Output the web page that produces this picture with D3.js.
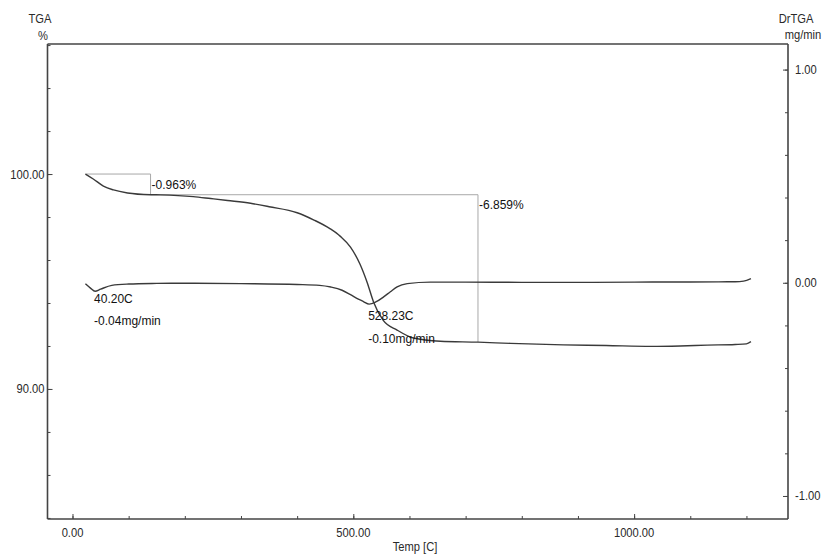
<!DOCTYPE html>
<html>
<head>
<meta charset="utf-8">
<script src="https://cdn.jsdelivr.net/npm/d3@7/dist/d3.min.js"></script>
<style>
  html, body { margin: 0; padding: 0; background: #fff; }
  svg { display: block; }
  .tick-label { font-family: "Liberation Sans", Arial, sans-serif; font-size: 13px; fill: #2a2a2a; }
  .note { font-family: "Liberation Sans", Arial, sans-serif; font-size: 12px; fill: #111; }
</style>
</head>
<body>
<svg id="chart" width="828" height="556"></svg>
<script>
// TGA mass curve (%), sampled against temperature (°C)
const tgaTemp = [23, 37, 55, 73, 98, 139, 157, 215, 246, 276, 317, 350, 400, 430, 459, 477, 495, 512, 525, 536, 553, 578, 607, 655, 722, 780, 874, 950, 1030, 1082, 1130, 1180, 1200, 1208];
const tgaMass = [100.0, 99.77, 99.44, 99.26, 99.12, 99.037, 99.03, 98.95, 98.86, 98.77, 98.64, 98.48, 98.2, 97.86, 97.45, 97.1, 96.6, 95.8, 94.93, 94.05, 93.2, 92.74, 92.37, 92.22, 92.178, 92.12, 92.05, 92.02, 91.98, 92.0, 92.04, 92.07, 92.1, 92.2];

// DrTGA derivative curve (mg/min)
const dtgTemp = [23, 32, 40.2, 50, 70, 100, 150, 200, 300, 400, 440, 460, 480, 495, 510, 518, 528.23, 540, 554, 566, 578, 596, 637, 700, 800, 900, 1000, 1100, 1180, 1195, 1208];
const dtgRate = [-0.005, -0.025, -0.04, -0.03, -0.012, -0.006, -0.003, -0.002, -0.004, -0.008, -0.012, -0.02, -0.035, -0.056, -0.078, -0.088, -0.10, -0.09, -0.066, -0.042, -0.019, -0.004, 0.003, 0.003, 0.002, 0.002, 0.003, 0.004, 0.005, 0.008, 0.02];

// Mass-loss steps: start temp, end temp, start level (%), loss (%)
const stepStart = [23, 139];
const stepEnd = [139, 722];
const stepLevel = [100.0, 99.037];
const stepLoss = [0.963, 6.859];

// Peak readouts on the derivative curve
const peakTemp = [40.20, 528.23];
const peakRate = [-0.04, -0.10];

// Axis ticks
const xMajor = [0, 500, 1000];
const xMinor = d3.range(0, 1201, 100);
const yLeftMajor = [100, 90];
const yLeftMinor = d3.range(84, 106.1, 2);
const yRightMajor = [1, 0, -1];
const yRightMinor = d3.range(-1, 1.01, 0.2);

const svg = d3.select("#chart");
const L = 47.5, R = 788, T = 44, B = 519;

const x = d3.scaleLinear().domain([-44.5, 1274]).range([L, R]);
const yL = d3.scaleLinear().domain([83.95, 106.05]).range([B, T]);
const yR = d3.scaleLinear().domain([-1.108, 1.12]).range([B, T]);

const axisColor = "#444";
const curveColor = "#3a3a3a";
const guideColor = "#a8a8a8";

// Condensed label helper (axis text is drawn narrow)
function narrowText(sel, px, py, anchor, txt) {
  return sel.append("text").attr("class", "tick-label")
    .attr("transform", `translate(${px},${py}) scale(0.86,1)`)
    .attr("text-anchor", anchor).text(txt);
}

// Step brackets for the two mass losses
stepStart.forEach((s, i) => {
  const lvl = stepLevel[i];
  const g = svg.append("g").attr("stroke", guideColor).attr("stroke-width", 1).attr("fill", "none");
  g.append("line").attr("x1", x(s)).attr("x2", x(stepEnd[i])).attr("y1", yL(lvl)).attr("y2", yL(lvl));
  g.append("line").attr("x1", x(stepEnd[i])).attr("x2", x(stepEnd[i])).attr("y1", yL(lvl)).attr("y2", yL(lvl - stepLoss[i]));
  svg.append("text").attr("class", "note")
    .attr("x", x(stepEnd[i]) + 1).attr("y", yL(lvl) + 14.5)
    .text("-" + stepLoss[i].toFixed(3) + "%");
});

// Curves
const tgaLine = d3.line().x(d => x(d[0])).y(d => yL(d[1])).curve(d3.curveMonotoneX);
const dtgLine = d3.line().x(d => x(d[0])).y(d => yR(d[1])).curve(d3.curveMonotoneX);

svg.append("path")
  .attr("d", tgaLine(tgaTemp.map((t, i) => [t, tgaMass[i]])))
  .attr("fill", "none").attr("stroke", curveColor).attr("stroke-width", 1.4);
svg.append("path")
  .attr("d", dtgLine(dtgTemp.map((t, i) => [t, dtgRate[i]])))
  .attr("fill", "none").attr("stroke", curveColor).attr("stroke-width", 1.4);

// Peak readouts
const peakOffsets = [[12, 34], [16, 39]];
peakTemp.forEach((t, i) => {
  const px = x(t) - 1, py = yR(peakRate[i]);
  svg.append("text").attr("class", "note").attr("x", px).attr("y", py + peakOffsets[i][0])
    .text(t.toFixed(2) + "C");
  svg.append("text").attr("class", "note").attr("x", px).attr("y", py + peakOffsets[i][1])
    .text(peakRate[i].toFixed(2) + "mg/min");
});

// Frame
const frame = svg.append("g").attr("stroke", axisColor).attr("stroke-width", 1.6);
frame.append("line").attr("x1", L).attr("x2", R).attr("y1", T).attr("y2", T);
frame.append("line").attr("x1", L).attr("x2", R).attr("y1", B).attr("y2", B);
frame.append("line").attr("x1", L).attr("x2", L).attr("y1", T).attr("y2", B);
frame.append("line").attr("x1", R).attr("x2", R).attr("y1", T).attr("y2", B);

// Bottom axis
const xAxis = svg.append("g").attr("transform", `translate(0,${B})`);
xAxis.call(d3.axisTop(x).tickValues(xMinor).tickSize(3).tickFormat(""));
xAxis.append("g").call(d3.axisTop(x).tickValues(xMajor).tickSize(5).tickFormat(""));
xAxis.selectAll(".domain").remove();
xAxis.selectAll("line").attr("stroke", axisColor).attr("stroke-width", 1);
xMajor.forEach(d => narrowText(xAxis, x(d), 18, "middle", d.toFixed(2)));

// Left axis
const lAxis = svg.append("g").attr("transform", `translate(${L},0)`);
lAxis.call(d3.axisRight(yL).tickValues(yLeftMinor).tickSize(3).tickFormat(""));
lAxis.append("g").call(d3.axisRight(yL).tickValues(yLeftMajor).tickSize(5).tickFormat(""));
lAxis.selectAll(".domain").remove();
lAxis.selectAll("line").attr("stroke", axisColor).attr("stroke-width", 1);
yLeftMajor.forEach(d => narrowText(lAxis, -3, yL(d) + 4.5, "end", d.toFixed(2)));

// Right axis
const rAxis = svg.append("g").attr("transform", `translate(${R},0)`);
rAxis.call(d3.axisLeft(yR).tickValues(yRightMinor).tickSize(3).tickFormat(""));
rAxis.append("g").call(d3.axisLeft(yR).tickValues(yRightMajor).tickSize(5).tickFormat(""));
rAxis.selectAll(".domain").remove();
rAxis.selectAll("line").attr("stroke", axisColor).attr("stroke-width", 1);
yRightMajor.forEach(d => narrowText(rAxis, 7, yR(d) + 4.5, "start", d.toFixed(2)));

// Axis titles
narrowText(svg, 40, 23, "middle", "TGA");
narrowText(svg, 43, 40, "middle", "%");
narrowText(svg, 796, 23, "middle", "DrTGA");
narrowText(svg, 803, 39, "middle", "mg/min");
narrowText(svg, 415, 551, "middle", "Temp [C]");
</script>
</body>
</html>
